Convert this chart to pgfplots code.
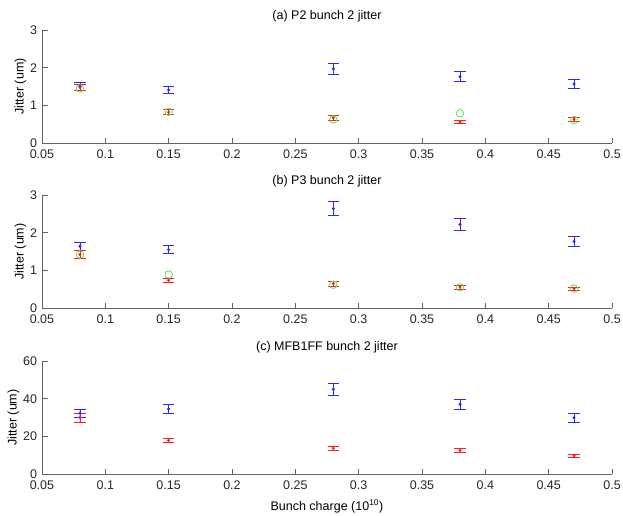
\documentclass[border=0pt]{standalone}
\usepackage{pgfplots}
\pgfplotsset{compat=1.18}
\usepackage{fontspec}
\setmainfont{Liberation Sans}
\definecolor{axgray}{RGB}{100,100,100}
\definecolor{mblue}{RGB}{40,40,255}
\definecolor{mred}{RGB}{255,30,30}
\definecolor{mgreen}{RGB}{90,230,90}
\pgfplotsset{
  jit/.style={
    scale only axis, width=410.4pt, height=81.4pt,
    axis x line*=bottom, axis y line*=left,
    axis line style={axgray, line width=0.6pt},
    major tick style={axgray, line width=0.6pt},
    major tick length=4pt, tick align=inside,
    xmin=0.05, xmax=0.5,
    xtick={0.05,0.1,0.15,0.2,0.25,0.3,0.35,0.4,0.45,0.5},
    /pgf/number format/assume math mode=true,
    xticklabel style={/pgf/number format/fixed, /pgf/number format/precision=2, yshift=-1.5pt},
    tick label style={font=\fontsize{9}{11}\selectfont, text=black!85},
    label style={font=\fontsize{9}{11}\selectfont},
    title style={font=\fontsize{9}{11}\selectfont, yshift=-4pt},
    ylabel={Jitter (um)},
    ylabel style={yshift=-4pt},
    clip=false,
  },
  bl/.style={only marks, mark=*, mark size=0.9pt, color=mblue, draw=mblue, fill=mblue,
    error bars/.cd, y dir=both, y explicit,
    error bar style={draw=mblue, color=mblue, line width=0.5pt},
    error mark options={rotate=90, mark size=4pt, draw=mblue, color=mblue, line width=0.5pt}},
  rd/.style={only marks, mark=*, mark size=0.9pt, color=mred, draw=mred, fill=mred,
    error bars/.cd, y dir=both, y explicit,
    error bar style={draw=mred, color=mred, line width=0.5pt},
    error mark options={rotate=90, mark size=4pt, draw=mred, color=mred, line width=0.5pt}},
  gr/.style={only marks, mark=o, mark size=2.7pt, color=mgreen, mark options={line width=0.6pt}},
}
\begin{document}
\begin{tikzpicture}
\useasboundingbox (-30.2pt,-29.5pt) rectangle (418.3pt,341.3pt);
% (a)
\begin{axis}[jit, at={(0,238.3pt)}, ymin=0, ymax=3, ytick={0,1,2,3},
  title={(a) P2 bunch 2 jitter}]
\addplot[gr] coordinates {(0.08,1.45) (0.15,0.83) (0.28,0.63) (0.38,0.79) (0.47,0.61)};
\addplot[bl] coordinates {(0.08,1.51) +- (0,0.10) (0.15,1.41) +- (0,0.10) (0.28,1.97) +- (0,0.14) (0.38,1.76) +- (0,0.13) (0.47,1.57) +- (0,0.12)};
\addplot[rd] coordinates {(0.08,1.48) +- (0,0.07) (0.15,0.82) +- (0,0.07) (0.28,0.67) +- (0,0.07) (0.38,0.55) +- (0,0.04) (0.47,0.63) +- (0,0.05)};
\end{axis}
% (b)
\begin{axis}[jit, at={(0,119.5pt)}, ymin=0, ymax=3, ytick={0,1,2,3},
  title={(b) P3 bunch 2 jitter}]
\addplot[gr] coordinates {(0.08,1.42) (0.15,0.89) (0.28,0.62) (0.38,0.55) (0.47,0.52)};
\addplot[bl] coordinates {(0.08,1.64) +- (0,0.11) (0.15,1.55) +- (0,0.11) (0.28,2.64) +- (0,0.18) (0.38,2.22) +- (0,0.16) (0.47,1.77) +- (0,0.13)};
\addplot[rd] coordinates {(0.08,1.42) +- (0,0.10) (0.15,0.74) +- (0,0.06) (0.28,0.65) +- (0,0.06) (0.38,0.56) +- (0,0.05) (0.47,0.52) +- (0,0.04)};
\end{axis}
% (c)
\begin{axis}[jit, at={(0,0)}, ymin=0, ymax=60, ytick={0,20,40,60},
  title={(c) MFB1FF bunch 2 jitter},
  xlabel={Bunch charge (10\textsuperscript{10})}, xlabel style={yshift=0pt}]
\addplot[bl] coordinates {(0.08,32.3) +- (0,2.3) (0.15,34.6) +- (0,2.6) (0.28,45.0) +- (0,3.3) (0.38,37.0) +- (0,2.6) (0.47,29.9) +- (0,2.2)};
\addplot[rd] coordinates {(0.08,30.0) +- (0,2.3) (0.15,17.9) +- (0,1.3) (0.28,13.7) +- (0,1.0) (0.38,12.7) +- (0,1.0) (0.47,9.8) +- (0,0.9)};
\end{axis}
\end{tikzpicture}
\end{document}
